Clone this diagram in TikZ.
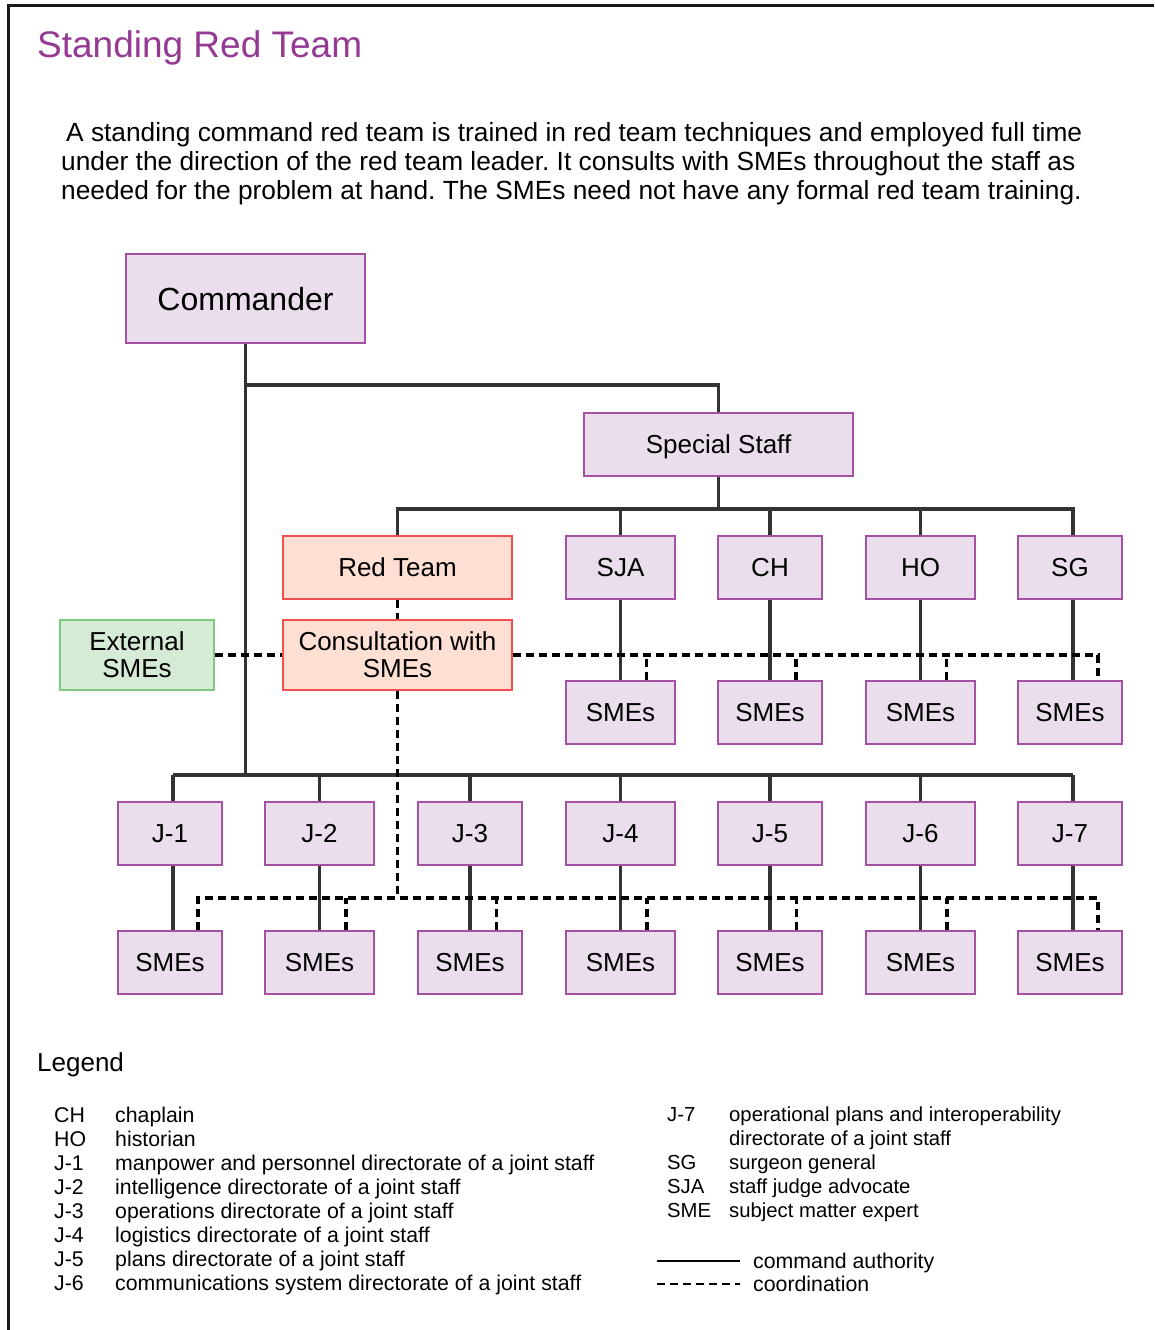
\documentclass[tikz,border=0pt]{standalone}
\usepackage{fontspec}
\setmainfont{Liberation Sans}
\frenchspacing
\definecolor{pfill}{HTML}{EADDEC}
\definecolor{pdraw}{HTML}{A451A4}
\definecolor{rfill}{HTML}{FDE0D3}
\definecolor{rdraw}{HTML}{EF4F4F}
\definecolor{gfill}{HTML}{D5EBD5}
\definecolor{gdraw}{HTML}{7DC97D}
\definecolor{ttl}{HTML}{943A93}
\definecolor{cmdline}{HTML}{333333}
\begin{document}
\begin{tikzpicture}[x=1pt,y=-1pt,
  box/.style={draw=pdraw, fill=pfill, line width=1.5pt, inner sep=0pt,
    minimum height=63pt, font=\fontsize{26}{27}\selectfont, align=center,
    text height=18.6pt, text depth=0pt},
  narrow/.style={minimum width=104pt},
  wide/.style={minimum width=109pt},
  twoline/.style={text height=, text depth=, minimum height=70pt},
  redbox/.style={draw=rdraw, fill=rfill},
  greenbox/.style={draw=gdraw, fill=gfill},
  cmd/.style={draw=cmdline, line width=3.5pt},
  coord/.style={draw=black, line width=3.2pt, dash pattern=on 8pt off 5pt},
  body/.style={anchor=base west, inner sep=0pt, font=\fontsize{26.3}{29}\selectfont},
  leg/.style={anchor=base west, inner sep=0pt, font=\fontsize{21.3}{24}\selectfont},
  legr/.style={anchor=base west, inner sep=0pt, font=\fontsize{20.3}{24}\selectfont},
]
\useasboundingbox (0,0) rectangle (1154,1330);
\fill[white] (0,0) rectangle (1154,1330);
% frame
\draw[line width=2.5pt, color=black!90] (1154,5.5) -- (8.5,5.5) -- (8.5,1330);

% title and description
\node[anchor=base west, inner sep=0pt, text=ttl, font=\fontsize{37}{40}\selectfont] (title) at (37,57) {Standing Red Team};
\node[body] (d1) at (66,141) {A standing command red team is trained in red team techniques and employed full time};
\node[body] (d2) at (61,170) {under the direction of the red team leader. It consults with SMEs throughout the staff as};
\node[body] (d3) at (61,199) {needed for the problem at hand. The SMEs need not have any formal red team training.};

% nodes
\node[box, minimum width=239pt, minimum height=89pt, font=\fontsize{32}{34}\selectfont, text height=23pt] (cmdr) at (245.5,298.5) {Commander};
\node[box, minimum width=269pt] (ss) at (718.5,444.5) {Special Staff};
\node[box, redbox, minimum width=229pt] (red) at (397.5,567.5) {Red Team};
\node[box, wide] (sja) at (620.5,567.5) {SJA};
\node[box, narrow] (ch) at (770,567.5) {CH};
\node[box, wide] (ho) at (920.5,567.5) {HO};
\node[box, narrow] (sg) at (1070,567.5) {SG};
\node[box, greenbox, twoline, minimum width=154pt] (ext) at (137,655) {External\\SMEs};
\node[box, redbox, twoline, minimum width=229pt] (cons) at (397.5,655) {Consultation with\\SMEs};
\node[box, wide] (sa) at (620.5,712.5) {SMEs};
\node[box, narrow] (sb) at (770,712.5) {SMEs};
\node[box, wide] (sc) at (920.5,712.5) {SMEs};
\node[box, narrow] (sd) at (1070,712.5) {SMEs};

\node[box, narrow] (j1) at (170,833.5) {J-1};
\node[box, wide] (j2) at (319.5,833.5) {J-2};
\node[box, narrow] (j3) at (470,833.5) {J-3};
\node[box, wide] (j4) at (620.5,833.5) {J-4};
\node[box, narrow] (j5) at (770,833.5) {J-5};
\node[box, wide] (j6) at (920.5,833.5) {J-6};
\node[box, narrow] (j7) at (1070,833.5) {J-7};

\node[box, narrow] (t1) at (170,962.5) {SMEs};
\node[box, wide] (t2) at (319.5,962.5) {SMEs};
\node[box, narrow] (t3) at (470,962.5) {SMEs};
\node[box, wide] (t4) at (620.5,962.5) {SMEs};
\node[box, narrow] (t5) at (770,962.5) {SMEs};
\node[box, wide] (t6) at (920.5,962.5) {SMEs};
\node[box, narrow] (t7) at (1070,962.5) {SMEs};

% bus coordinates
\coordinate (ysb) at (0,385);
\coordinate (yb1) at (0,509);
\coordinate (yjb) at (0,775);
\coordinate (yd2) at (0,898);

% command authority lines
\draw[cmd] (cmdr.south) -- (cmdr.south |- yjb);
\draw[cmd] (cmdr.south |- ysb) -| (ss.north);
\draw[cmd] (ss.south) -- (ss.south |- yb1);
\draw[cmd] (red.north) -- (red.north |- yb1) -- ([xshift=3pt]sg.north |- yb1) -- ([xshift=3pt]sg.north);
\foreach \n in {sja,ch,ho} \draw[cmd] (\n.north) -- (\n.north |- yb1);
\draw[cmd] (sja.south) -- (sa.north);
\draw[cmd] (ch.south) -- (sb.north);
\draw[cmd] (ho.south) -- (sc.north);
\draw[cmd] ([xshift=3pt]sg.south) -- ([xshift=3pt]sd.north);
\draw[cmd] ([xshift=3pt]j1.north |- yjb) -- ([xshift=3pt]j7.north |- yjb);
\foreach \n in {j2,j3,j4,j5,j6} \draw[cmd] (\n.north) -- (\n.north |- yjb);
\draw[cmd] ([xshift=3pt]j1.north) -- ([xshift=3pt]j1.north |- yjb);
\draw[cmd] ([xshift=3pt]j7.north) -- ([xshift=3pt]j7.north |- yjb);
\draw[cmd] ([xshift=3pt]j1.south) -- ([xshift=3pt]t1.north);
\draw[cmd] (j2.south) -- (t2.north);
\draw[cmd] (j3.south) -- (t3.north);
\draw[cmd] (j4.south) -- (t4.north);
\draw[cmd] (j5.south) -- (t5.north);
\draw[cmd] (j6.south) -- (t6.north);
\draw[cmd] ([xshift=3pt]j7.south) -- ([xshift=3pt]t7.north);

% coordination lines
\draw[coord] (red.south) -- (cons.north);
\draw[coord] (ext.east) -- (cons.west);
\draw[coord] (cons.east) -| ([xshift=28pt]sd.north);
\foreach \n in {sa,sb,sc} \draw[coord] ([xshift=26pt]\n.north) -- ([xshift=26pt]\n.north |- cons.east);
\draw[coord] (cons.south) -- (cons.south |- yd2);
\draw[coord] ([xshift=28pt]t1.north) |- ([xshift=28pt]t7.north |- yd2) -- ([xshift=28pt]t7.north);
\foreach \n in {t2,t3,t4,t5,t6} \draw[coord] ([xshift=26.5pt]\n.north) -- ([xshift=26.5pt]\n.north |- yd2);

% legend
\node[anchor=base west, inner sep=0pt, font=\fontsize{26}{29}\selectfont] (legtitle) at (37,1071) {Legend};
\foreach \a/\d [count=\i] in {CH/chaplain, HO/historian,
  J-1/manpower and personnel directorate of a joint staff,
  J-2/intelligence directorate of a joint staff,
  J-3/operations directorate of a joint staff,
  J-4/logistics directorate of a joint staff,
  J-5/plans directorate of a joint staff,
  J-6/communications system directorate of a joint staff} {
  \node[leg] (la\i) at (54,{1122+24*(\i-1)}) {\a};
  \node[leg] (ld\i) at (115,{1122+24*(\i-1)}) {\d};
}
\node[legr] (ra1) at (667,1121) {J-7};
\node[legr] (rd1) at (729,1121) {operational plans and interoperability};
\node[legr] (rd1b) at (729,1145) {directorate of a joint staff};
\node[legr] (ra2) at (667,1169) {SG};
\node[legr] (rd2) at (729,1169) {surgeon general};
\node[legr] (ra3) at (667,1193) {SJA};
\node[legr] (rd3) at (729,1193) {staff judge advocate};
\node[legr] (ra4) at (667,1217) {SME};
\node[legr] (rd4) at (729,1217) {subject matter expert};

\coordinate (ls1) at (657,1261);
\coordinate (ls2) at (740,1261);
\coordinate (lc1) at (657,1284);
\coordinate (lc2) at (740,1284);
\draw[black, line width=2.2pt] (ls1) -- (ls2);
\draw[black, line width=2.2pt, dash pattern=on 8pt off 5pt] (lc1) -- (lc2);
\node[leg] (lt1) at (753,1268) {command authority};
\node[leg] (lt2) at (753,1291) {coordination};
\end{tikzpicture}
\end{document}
